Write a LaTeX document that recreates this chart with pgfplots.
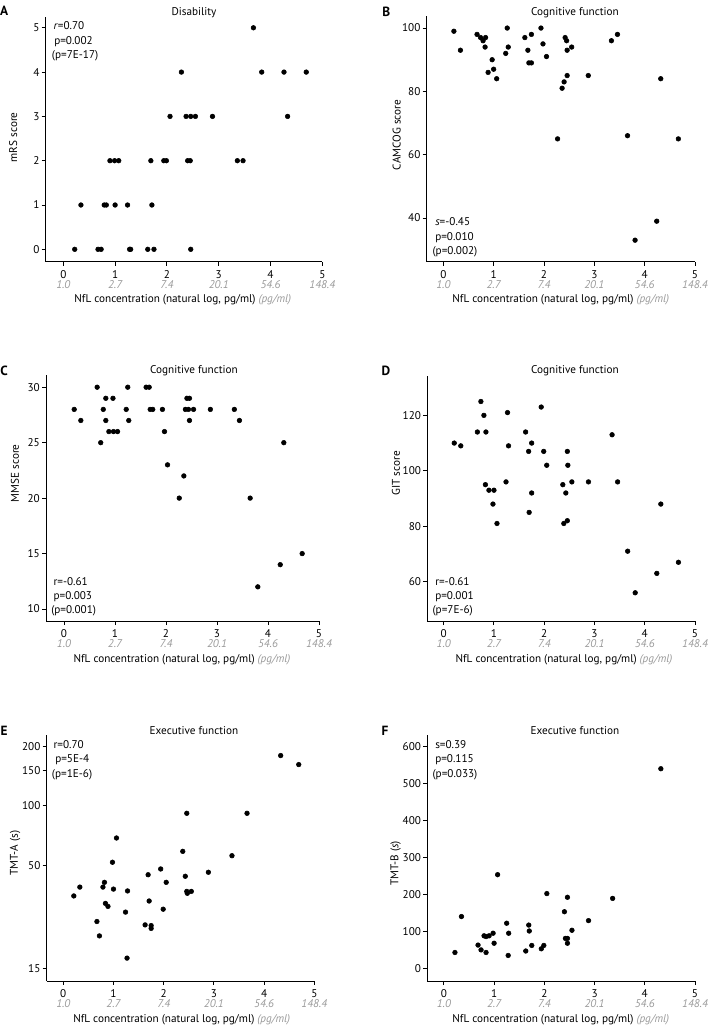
\documentclass[border=0pt]{standalone}
\usepackage{fontspec}
\setmainfont{PT Sans}
\usepackage{pgfplots}
\pgfplotsset{compat=1.18}
\definecolor{lg}{HTML}{9A9A9A}
\newcommand{\fs}{\fontsize{8.4}{7.6}\selectfont}
\newcommand{\fst}{\fontsize{8.4}{7.3}\selectfont}
\pgfplotsset{
  panel/.style={
    scale only axis,
    anchor=north west,
    axis lines=left,
    axis line style={-, line width=0.7pt},
    tick align=outside,
    major tick length=3pt,
    tick style={line width=0.7pt, black},
    xmax=5,
    xtick={0,1,2,3,4,5},
    xticklabels={{0\\\textcolor{lg}{\itshape 1.0}},{1\\\textcolor{lg}{\itshape 2.7}},{2\\\textcolor{lg}{\itshape 7.4}},{3\\\textcolor{lg}{\itshape 20.1}},{4\\\textcolor{lg}{\itshape 54.6}},{5\\\textcolor{lg}{\itshape 148.4}}},
    xticklabel style={align=center, font=\fst, inner sep=1pt, yshift=-2.5pt},
    yticklabel style={font=\fs, inner sep=1.5pt},
    /pgf/number format/assume math mode=true,
    clip=false,
  },
  dots/.style={only marks, mark=*, mark size=1.75pt, draw=black, fill=black, mark options={draw=black, fill=black}},
}
\begin{document}
\begin{tikzpicture}
\path[use as bounding box] (0,0) rectangle (531.75pt,-769.5pt);

% A
\begin{axis}[panel, at={(34.28pt,-12.53pt)}, width=207.45pt, height=183.75pt,
  xmin=-0.34, ymin=-0.28, ymax=5.25, ytick={0,1,2,3,4,5}]
\addplot[dots] coordinates {(3.67,5) (2.28,4) (3.83,4) (4.26,4) (4.69,4) (2.06,3) (2.37,3) (2.46,3) (2.55,3) (2.88,3) (4.33,3) (0.90,2) (0.99,2) (1.07,2) (1.69,2) (1.94,2) (1.99,2) (2.40,2) (2.45,2) (3.36,2) (3.47,2) (0.34,1) (0.79,1) (0.83,1) (1.00,1) (1.24,1) (1.71,1) (0.22,0) (0.67,0) (0.73,0) (1.28,0) (1.30,0) (1.63,0) (1.75,0) (2.46,0)};
\end{axis}

% B
\begin{axis}[panel, at={(320.03pt,-11.78pt)}, width=201.2pt, height=184.5pt,
  xmin=-0.33, ymin=26.2, ymax=103.9, ytick={40,60,80,100}]
\addplot[dots] coordinates {(0.21,99) (0.34,93) (0.67,98) (0.74,97) (0.79,96) (0.84,97) (0.83,94) (0.89,86) (0.97,90) (1.00,87) (1.06,84) (1.24,92) (1.27,100) (1.29,94) (1.62,97) (1.68,93) (1.70,89) (1.75,98) (1.75,89) (1.94,100) (1.98,95) (2.05,91) (2.27,65) (2.36,81) (2.40,83) (2.42,97) (2.45,96) (2.46,93) (2.46,85) (2.55,94) (2.88,85) (3.34,96) (3.46,98) (3.66,66) (3.81,33) (4.24,39) (4.32,84) (4.67,65)};
\end{axis}

% C
\begin{axis}[panel, at={(34.5pt,-281.25pt)}, width=204.75pt, height=184.5pt,
  xmin=-0.353, ymin=8.92, ymax=31.1, ytick={10,15,20,25,30}]
\addplot[dots] coordinates {(0.20,28) (0.33,27) (0.65,30) (0.72,25) (0.77,28) (0.82,29) (0.82,27) (0.88,26) (0.96,29) (0.97,26) (1.05,26) (1.22,28) (1.25,30) (1.27,27) (1.61,30) (1.67,30) (1.69,28) (1.74,28) (1.93,28) (1.97,26) (2.03,23) (2.26,20) (2.35,22) (2.38,28) (2.41,29) (2.46,29) (2.44,28) (2.46,27) (2.54,28) (2.87,28) (3.34,28) (3.44,27) (3.65,20) (3.80,12) (4.24,14) (4.31,25) (4.67,15)};
\end{axis}

% D
\begin{axis}[panel, at={(320.48pt,-281.78pt)}, width=200.78pt, height=184pt,
  xmin=-0.326, ymin=45.8, ymax=134.3, ytick={60,80,100,120}]
\addplot[dots] coordinates {(0.21,110) (0.34,109) (0.67,114) (0.74,125) (0.80,120) (0.84,114) (0.83,95) (0.90,93) (1.00,93) (0.98,88) (1.06,81) (1.27,121) (1.24,96) (1.29,109) (1.63,114) (1.69,107) (1.70,85) (1.75,110) (1.75,92) (1.94,123) (1.99,107) (2.05,102) (2.37,95) (2.43,92) (2.39,81) (2.46,82) (2.46,107) (2.47,102) (2.55,96) (2.88,96) (3.35,113) (3.46,96) (3.66,71) (3.81,56) (4.24,63) (4.32,88) (4.67,67)};
\end{axis}

% E
\begin{axis}[panel, at={(35.03pt,-551.25pt)}, width=200.7pt, height=184.5pt,
  xmin=-0.33, ymode=log, ymin=12.94, ymax=228, ytick={15,50,100,150,200},
  yticklabels={15,50,100,150,200}, yminorticks=false]
\addplot[dots] coordinates {(0.21,34.9) (0.33,38.7) (0.67,25.9) (0.72,21.9) (0.79,38.7) (0.82,40.9) (0.84,32.0) (0.89,30.9) (0.98,51.7) (1.00,37.8) (1.06,68.6) (1.24,28.9) (1.28,37.0) (1.27,16.9) (1.63,24.9) (1.69,44.7) (1.71,32.9) (1.75,24.7) (1.75,23.9) (1.94,47.8) (1.99,29.9) (2.05,40.9) (2.38,58.7) (2.43,43.9) (2.46,91.5) (2.46,36.8) (2.47,36.0) (2.55,36.8) (2.89,46.0) (3.36,55.8) (3.66,91.5) (4.33,179.4) (4.69,161.5)};
\end{axis}

% F
\begin{axis}[panel, at={(320.48pt,-551.25pt)}, width=200.78pt, height=184.5pt,
  xmin=-0.33, ymin=-34, ymax=630, ytick={0,100,200,300,400,500,600}]
\addplot[dots] coordinates {(0.22,43) (0.35,140) (0.68,63) (0.74,50) (0.80,88) (0.84,86) (0.84,43) (0.90,88) (0.98,95) (1.00,68) (1.07,253) (1.25,122) (1.28,35) (1.29,95) (1.63,47) (1.69,117) (1.70,101) (1.75,62) (1.94,53) (1.99,62) (2.05,202) (2.40,153) (2.42,81) (2.46,81) (2.46,68) (2.46,192) (2.55,103) (2.88,129) (3.36,189) (4.32,539)};
\end{axis}

\begin{scope}[x=0.75pt,y=-0.75pt]
\tikzset{lbl/.style={font=\fs, inner sep=0pt}, let/.style={font=\fontsize{10}{10}\selectfont\bfseries, inner sep=0pt}}
% panel letters
\node[let] at (4.2,10.8) {A};
\node[let] at (386.3,11.7) {B};
\node[let] at (4,370.8) {C};
\node[let] at (386,371.2) {D};
\node[let] at (4,730.5) {E};
\node[let] at (385,730.5) {F};
% titles
\node[lbl] at (194,12.7) {Disability};
\node[lbl] at (575,12.7) {Cognitive function};
\node[lbl] at (194,371) {Cognitive function};
\node[lbl] at (575,371) {Cognitive function};
\node[lbl] at (194,731) {Executive function};
\node[lbl] at (575,731) {Executive function};
% y labels
\node[lbl, rotate=90] at (13.3,137.3) {mRS score};
\node[lbl, rotate=90] at (396.7,135) {CAMCOG score};
\node[lbl, rotate=90] at (15,473.3) {MMSE score};
\node[lbl, rotate=90] at (396,473.3) {GIT score};
\node[lbl, rotate=90] at (15,853.3) {TMT-A (s)};
\node[lbl, rotate=90] at (395.7,863.3) {TMT-B (\textit{s})};
% x labels
\foreach \xx/\yy in {182.8/300, 560.8/300, 182/660, 564/660, 181.7/1020, 560.8/1020}
  \node[lbl] at (\xx,\yy) {NfL concentration (natural log, pg/ml) \textcolor{lg}{\itshape (pg/ml)}};
% stats
\node[lbl, anchor=base west] at (53.3,29.3) {\textit{r}=0.70};
\node[lbl, anchor=base west] at (54,44.3) {p=0.002};
\node[lbl, anchor=base west] at (51.7,58.3) {(p=7E-17)};
\node[lbl, anchor=base west] at (435,225.3) {\textit{s}=-0.45};
\node[lbl, anchor=base west] at (435,240) {p=0.010};
\node[lbl, anchor=base west] at (432.3,254) {(p=0.002)};
\node[lbl, anchor=base west] at (53.3,585) {r=-0.61};
\node[lbl, anchor=base west] at (53.3,599) {p=0.003};
\node[lbl, anchor=base west] at (51,613.3) {(p=0.001)};
\node[lbl, anchor=base west] at (435,585.3) {r=-0.61};
\node[lbl, anchor=base west] at (435,599.3) {p=0.001};
\node[lbl, anchor=base west] at (432.3,613.6) {(p=7E-6)};
\node[lbl, anchor=base west] at (53.3,748.3) {r=0.70};
\node[lbl, anchor=base west] at (55,762.6) {p=5E-4};
\node[lbl, anchor=base west] at (51.7,777.3) {(p=1E-6)};
\node[lbl, anchor=base west] at (435,748.3) {s=0.39};
\node[lbl, anchor=base west] at (435,762.6) {p=0.115};
\node[lbl, anchor=base west] at (432.3,777.3) {(p=0.033)};
\end{scope}
\end{tikzpicture}
\end{document}
